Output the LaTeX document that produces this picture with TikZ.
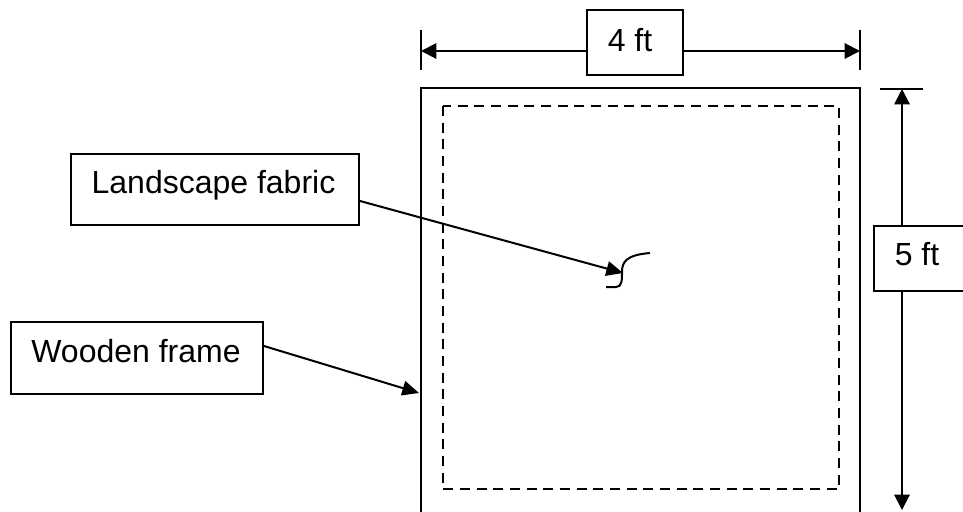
\documentclass[tikz,border=0pt]{standalone}
\usepackage{fontspec}
\setmainfont{Liberation Sans}
\usetikzlibrary{arrows.meta,calc}

\tikzset{
  line/.style={line width=1.5pt, black},
  labelbox/.style={draw, line width=1.5pt, rectangle, inner sep=0pt},
  labeltext/.style={font=\fontsize{24}{28}\selectfont, inner sep=0pt, anchor=base},
  pointer/.style={line, -{Triangle[length=12.5pt,width=11pt]}},
  dimtip/.style={line, -{Triangle[length=11.5pt,width=11.5pt]}},
  fabricedge/.style={line, dash pattern=on 7.5pt off 5pt},
}

\begin{document}
\begin{tikzpicture}[x=0.75pt,y=-0.75pt]
  \useasboundingbox (0,0) rectangle (963,511);
  \clip (0,0) rectangle (963,511);

  % wooden frame (runs past the lower edge) and fabric outline
  \draw[line] (421,530) -- (421,88) -- (860,88) -- (860,530);
  \draw[fabricedge] (443,106) rectangle (839,489);

  % width dimension
  \coordinate (wl) at (421,51);
  \coordinate (wr) at (860,51);
  \draw[line] (421,30) -- (421,70);
  \draw[line] (860,30) -- (860,70);
  \node[labelbox, minimum width=72pt, minimum height=48.75pt] (wbox) at (635,42.5) {};
  \node[labeltext] (wtxt) at (630,51) {4 ft};
  \draw[dimtip] (wbox.west |- wl) -- (wl);
  \draw[dimtip] (wbox.east |- wr) -- (wr);

  % height dimension
  \coordinate (ht) at (902,89);
  \coordinate (hb) at (902,510);
  \draw[line] (880,89) -- (923,89);
  \node[labelbox, minimum width=68.25pt, minimum height=48.75pt] (hbox) at (919.5,258.5) {};
  \node[labeltext] (htxt) at (917,265) {5 ft};
  \draw[dimtip] (ht |- hbox.north) -- (ht);
  \draw[dimtip] (hb |- hbox.south) -- (hb);

  % landscape fabric callout
  \node[labelbox, minimum width=216pt, minimum height=53.25pt] (lfbox) at (215,189.5) {};
  \node[labeltext] (lftxt) at (213.5,193) {Landscape fabric};
  \coordinate (fabtip) at (623,273);
  \draw[pointer] ($(lfbox.east)+(0,11.5)$) -- (fabtip);
  \draw[line] (606,287) -- (616,287)
    .. controls (622,287) and (622,280) .. (622,272)
    .. controls (622,262) and (626,255) .. (650,253);

  % wooden frame callout
  \node[labelbox, minimum width=189pt, minimum height=54pt] (wfbox) at (137,358) {};
  \node[labeltext] (wftxt) at (136,362) {Wooden frame};
  \coordinate (frametip) at (419,393);
  \draw[pointer] ($(wfbox.east)+(0,-12)$) -- (frametip);
\end{tikzpicture}
\end{document}
